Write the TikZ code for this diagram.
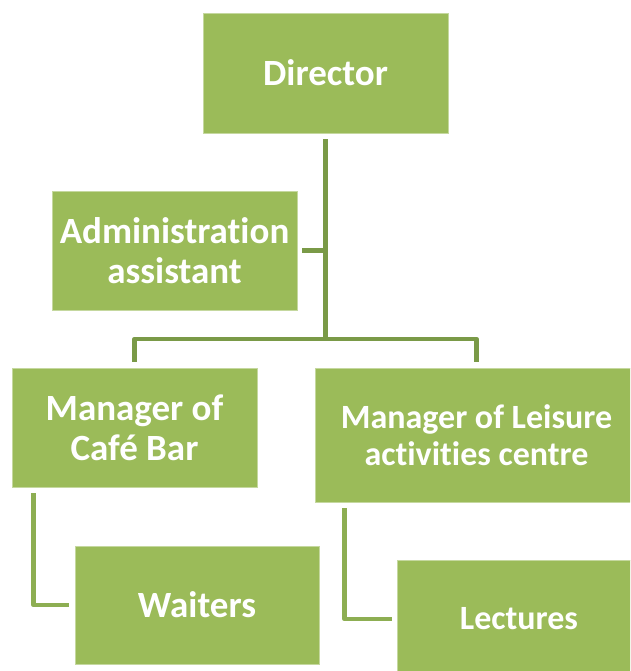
\documentclass[tikz,border=0pt]{standalone}
\usepackage{fontspec}
\setmainfont{Carlito}[Ligatures=NoCommon]
\definecolor{boxgreen}{HTML}{9BBB59}
\definecolor{boxedge}{HTML}{C5D89F}
\definecolor{busgreen}{HTML}{7A9A47}
\definecolor{subgreen}{HTML}{8DAE52}
\begin{document}
\begin{tikzpicture}[x=1pt,y=-1pt,
  orgbox/.style={rectangle, fill=boxgreen, draw=boxedge, line width=0.8pt,
    text=white, font=\fontsize{37}{40}\selectfont\bfseries, align=center,
    inner sep=0pt},
  widebox/.style={orgbox, font=\fontsize{34}{37}\selectfont\bfseries},
  busline/.style={draw=busgreen, line width=4.5pt, line join=round},
  subline/.style={draw=subgreen, line width=4.5pt, line join=round}]
\useasboundingbox (0,0) rectangle (630,671);
\clip (0,0) rectangle (630,671);

% boxes
\node[orgbox, minimum width=245, minimum height=120] (dir) at (325.5,73) {Director};
\node[orgbox, minimum width=245, minimum height=119] (adm) at (174.5,250.5) {Administration\\assistant};
\node[orgbox, minimum width=245, minimum height=119] (cafe) at (134.5,427.5) {Manager of\\Café Bar};
\node[widebox, minimum width=323, minimum height=134] (leis) at (476.5,435) {Manager of Leisure\\activities centre};
\node[orgbox, minimum width=244, minimum height=118] (wait) at (197,605) {Waiters};
\node[widebox, minimum width=244, minimum height=118] (lect) at (519,619) {Lectures};

% bus coordinates
\coordinate (busM) at (325.5,339);
\coordinate (busL) at (134.5,339);
\coordinate (busR) at (476.5,339);

% connectors
\draw[busline] ([yshift=-6pt]dir.south) -- (busM);
\draw[busline] ([xshift=5pt]adm.east) -- (adm.east -| busM);
\draw[busline] ([yshift=6pt]cafe.north) -- (busL) -- (busR) -- ([yshift=6pt]leis.north);
\draw[subline] (cafe.south west) ++(22,6) |- ([xshift=-6pt]wait.west);
\draw[subline] (leis.south west) ++(30,6) |- ([xshift=-5pt]lect.west);
\end{tikzpicture}
\end{document}
